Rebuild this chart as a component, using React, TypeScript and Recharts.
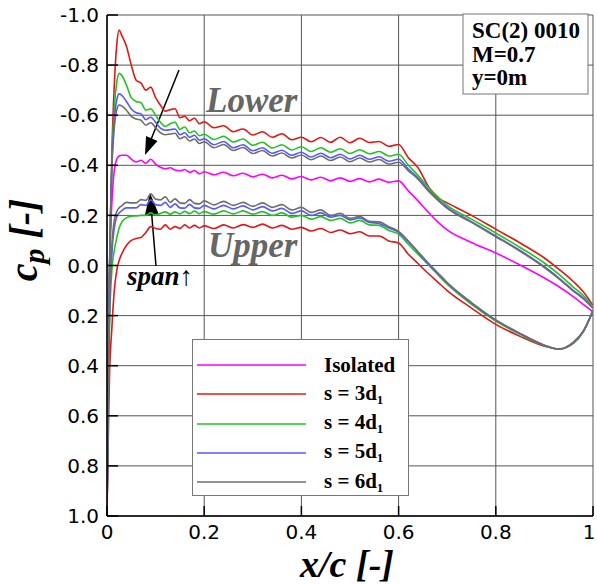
import React from 'react';
import { LineChart, Line, XAxis, YAxis, CartesianGrid, Legend } from 'recharts';

// chordwise stations x/c shared by every surface curve
const xGrid = [
  0, 0.002, 0.005, 0.01, 0.015, 0.02, 0.025, 0.03, 0.04, 0.05,
  0.06, 0.07, 0.08, 0.09, 0.10, 0.11, 0.12, 0.13, 0.14, 0.15, 0.16, 0.17, 0.18, 0.19, 0.20,
  0.22, 0.24, 0.26, 0.28, 0.30, 0.32, 0.34, 0.36, 0.38, 0.40, 0.42, 0.44, 0.46, 0.48, 0.50,
  0.52, 0.54, 0.56, 0.58, 0.60,
  0.62, 0.64, 0.66, 0.68, 0.70,
  0.75, 0.80, 0.85, 0.90, 0.93, 0.96, 0.98, 1.0,
];

const cpIsolated = [
  1.0, 0.55, 0.05, -0.25, -0.38, -0.425, -0.437, -0.44, -0.44, -0.425,
  -0.413, -0.42, -0.408, -0.424, -0.405, -0.392, -0.386, -0.39, -0.381, -0.378, -0.383, -0.372, -0.379, -0.366, -0.374,
  -0.362, -0.372, -0.358, -0.368, -0.354, -0.364, -0.35, -0.36, -0.346, -0.355, -0.342, -0.352, -0.338, -0.35, -0.336,
  -0.347, -0.334, -0.345, -0.332, -0.338,
  -0.298, -0.258, -0.215, -0.175, -0.142,
  -0.092, -0.05, -0.002, 0.05, 0.085, 0.125, 0.155, 0.185,
];

const cpS3Lower = [
  1.0, 0.55, 0.05, -0.45, -0.72, -0.88, -0.94, -0.92, -0.875, -0.80,
  -0.74, -0.728, -0.70, -0.712, -0.67, -0.64, -0.616, -0.622, -0.626, -0.59, -0.596, -0.578, -0.588, -0.566, -0.574,
  -0.55, -0.558, -0.534, -0.545, -0.521, -0.534, -0.512, -0.526, -0.502, -0.512, -0.494, -0.511, -0.492, -0.512, -0.49,
  -0.508, -0.491, -0.495, -0.476, -0.483,
  -0.43, -0.39, -0.32, -0.272, -0.25,
  -0.2, -0.145, -0.09, -0.03, 0.015, 0.065, 0.105, 0.16,
];
const cpS3Upper = [
  1.0, 0.75, 0.45, 0.25, 0.1, 0.02, -0.02, -0.045, -0.08, -0.1,
  -0.108, -0.112, -0.132, -0.155, -0.148, -0.145, -0.162, -0.145, -0.155, -0.148, -0.162, -0.15, -0.16, -0.15, -0.158,
  -0.148, -0.162, -0.15, -0.163, -0.152, -0.165, -0.15, -0.16, -0.145, -0.152, -0.138, -0.148, -0.132, -0.142, -0.127,
  -0.135, -0.118, -0.118, -0.098, -0.09,
  -0.045, -0.008, 0.03, 0.065, 0.1,
  0.17, 0.235, 0.283, 0.322, 0.333, 0.31, 0.265, 0.18,
];

const cpS4Lower = [
  1.0, 0.55, 0.05, -0.42, -0.63, -0.73, -0.767, -0.76, -0.72, -0.67,
  -0.655, -0.65, -0.62, -0.626, -0.6, -0.572, -0.555, -0.566, -0.572, -0.543, -0.553, -0.53, -0.537, -0.518, -0.524,
  -0.503, -0.516, -0.493, -0.505, -0.48, -0.492, -0.469, -0.482, -0.461, -0.474, -0.455, -0.47, -0.452, -0.466, -0.447,
  -0.462, -0.446, -0.455, -0.437, -0.444,
  -0.4, -0.36, -0.315, -0.275, -0.24,
  -0.185, -0.13, -0.072, -0.01, 0.035, 0.087, 0.12, 0.165,
];
const cpS4Upper = [
  1.0, 0.6, 0.25, 0.02, -0.06, -0.11, -0.15, -0.172, -0.19, -0.197,
  -0.198, -0.2, -0.2, -0.21, -0.202, -0.208, -0.214, -0.205, -0.214, -0.206, -0.216, -0.207, -0.217, -0.207, -0.215,
  -0.205, -0.218, -0.206, -0.218, -0.205, -0.215, -0.2, -0.21, -0.193, -0.2, -0.185, -0.195, -0.18, -0.188, -0.17,
  -0.18, -0.162, -0.16, -0.14, -0.125,
  -0.085, -0.045, -0.005, 0.035, 0.075,
  0.155, 0.222, 0.275, 0.32, 0.334, 0.308, 0.263, 0.18,
];

const cpS5Lower = [
  1.0, 0.55, 0.05, -0.4, -0.58, -0.66, -0.685, -0.68, -0.655, -0.625,
  -0.61, -0.605, -0.582, -0.592, -0.572, -0.548, -0.54, -0.542, -0.545, -0.522, -0.53, -0.512, -0.52, -0.5, -0.506,
  -0.482, -0.495, -0.47, -0.482, -0.458, -0.47, -0.448, -0.46, -0.44, -0.452, -0.433, -0.448, -0.43, -0.444, -0.425,
  -0.44, -0.424, -0.434, -0.416, -0.424,
  -0.385, -0.35, -0.305, -0.265, -0.232,
  -0.175, -0.118, -0.06, 0.005, 0.05, 0.1, 0.13, 0.17,
];
const cpS5Upper = [
  1.0, 0.6, 0.2, -0.05, -0.15, -0.195, -0.21, -0.218, -0.23, -0.23,
  -0.23, -0.243, -0.24, -0.262, -0.243, -0.24, -0.252, -0.232, -0.246, -0.23, -0.229, -0.244, -0.23, -0.228, -0.24,
  -0.226, -0.24, -0.226, -0.238, -0.222, -0.235, -0.218, -0.228, -0.208, -0.218, -0.2, -0.21, -0.193, -0.2, -0.182,
  -0.19, -0.172, -0.168, -0.15, -0.132,
  -0.095, -0.052, -0.01, 0.03, 0.07,
  0.15, 0.218, 0.272, 0.318, 0.334, 0.306, 0.262, 0.18,
];

const cpS6Lower = [
  1.0, 0.55, 0.05, -0.38, -0.55, -0.62, -0.641, -0.638, -0.62, -0.595,
  -0.585, -0.58, -0.56, -0.57, -0.55, -0.53, -0.522, -0.525, -0.528, -0.506, -0.514, -0.497, -0.505, -0.487, -0.494,
  -0.47, -0.483, -0.459, -0.471, -0.447, -0.459, -0.437, -0.449, -0.429, -0.441, -0.422, -0.437, -0.419, -0.433, -0.414,
  -0.429, -0.413, -0.423, -0.405, -0.412,
  -0.378, -0.345, -0.3, -0.262, -0.228,
  -0.172, -0.115, -0.057, 0.008, 0.053, 0.103, 0.133, 0.17,
];
const cpS6Upper = [
  1.0, 0.6, 0.2, -0.08, -0.18, -0.215, -0.23, -0.238, -0.252, -0.25,
  -0.25, -0.263, -0.26, -0.286, -0.265, -0.262, -0.274, -0.252, -0.266, -0.25, -0.248, -0.263, -0.248, -0.246, -0.258,
  -0.242, -0.256, -0.24, -0.252, -0.236, -0.25, -0.232, -0.243, -0.222, -0.232, -0.212, -0.222, -0.2, -0.208, -0.188,
  -0.196, -0.176, -0.174, -0.155, -0.136,
  -0.098, -0.055, -0.012, 0.028, 0.068,
  0.148, 0.217, 0.271, 0.318, 0.334, 0.306, 0.262, 0.18,
];

const seriesNames = ['Isolated', 's = 3d_1', 's = 4d_1', 's = 5d_1', 's = 6d_1'];
const seriesColors = ['#ff00ff', '#e01818', '#22c422', '#5858ff', '#6e6e6e'];

const xMajorTicks = [0, 0.2, 0.4, 0.6, 0.8, 1];
const xMinorTicks = [0, 0.05, 0.1, 0.15, 0.2, 0.25, 0.3, 0.35, 0.4, 0.45, 0.5, 0.55, 0.6, 0.65, 0.7, 0.75, 0.8, 0.85, 0.9, 0.95, 1];
const yMajorTicks = [-1, -0.8, -0.6, -0.4, -0.2, 0, 0.2, 0.4, 0.6, 0.8, 1];
const yMinorTicks = [-1, -0.95, -0.9, -0.85, -0.8, -0.75, -0.7, -0.65, -0.6, -0.55, -0.5, -0.45, -0.4, -0.35, -0.3, -0.25, -0.2, -0.15, -0.1, -0.05, 0, 0.05, 0.1, 0.15, 0.2, 0.25, 0.3, 0.35, 0.4, 0.45, 0.5, 0.55, 0.6, 0.65, 0.7, 0.75, 0.8, 0.85, 0.9, 0.95, 1];

const toPoints = (ys: number[]) => xGrid.map((x, i) => ({ x, cp: ys[i] }));

const surfaces = [
  { key: 'iso', data: toPoints(cpIsolated), idx: 0, legend: true },
  { key: 's3l', data: toPoints(cpS3Lower), idx: 1, legend: true },
  { key: 's3u', data: toPoints(cpS3Upper), idx: 1, legend: false },
  { key: 's4l', data: toPoints(cpS4Lower), idx: 2, legend: true },
  { key: 's4u', data: toPoints(cpS4Upper), idx: 2, legend: false },
  { key: 's5l', data: toPoints(cpS5Lower), idx: 3, legend: true },
  { key: 's5u', data: toPoints(cpS5Upper), idx: 3, legend: false },
  { key: 's6l', data: toPoints(cpS6Lower), idx: 4, legend: true },
  { key: 's6u', data: toPoints(cpS6Upper), idx: 4, legend: false },
];

const serifBoldItalic = { fontFamily: '"Liberation Serif", "Times New Roman", serif', fontWeight: 'bold' as const, fontStyle: 'italic' as const };
const tickFontFamily = '"DejaVu Sans", sans-serif';

const XTick = (props: any) => {
  const { x, y, payload } = props;
  const v = payload.value as number;
  const label = v === 0 || v === 1 ? String(v) : v.toFixed(1);
  const dx = v === 1 ? -4 : 0;
  return (
    <text x={x + dx} y={y} dy="0.71em" textAnchor="middle" fill="#000" fontSize={20} fontFamily={tickFontFamily}>
      {label}
    </text>
  );
};

const YTick = (props: any) => {
  const { x, y, payload } = props;
  const v = payload.value as number;
  return (
    <text x={x} y={y} dy="0.355em" textAnchor="end" fill="#000" fontSize={20} fontFamily={tickFontFamily}>
      {v.toFixed(1)}
    </text>
  );
};

const renderLegend = (props: any) => {
  const items = (props.payload || []).filter((p: any) => p.type !== 'none');
  return (
    <div style={{ width: 217, height: 157, border: '1px solid #777', background: '#fff', boxSizing: 'border-box', position: 'relative' }}>
      {items.map((it: any, i: number) => {
        const [base, sub] = String(it.value).split('_');
        return (
          <div key={i} style={{ position: 'absolute', left: 0, top: 11 + i * 29.3, height: 28, display: 'flex', alignItems: 'center' }}>
            <svg width={120} height={28} style={{ display: 'block' }}>
              <line x1={4} x2={113} y1={14} y2={14} stroke={it.color} strokeWidth={1.6} />
            </svg>
            <span style={{ marginLeft: 11, fontFamily: '"Liberation Serif", serif', fontWeight: 'bold', fontSize: 21, color: '#000', whiteSpace: 'nowrap' }}>
              {base}
              {sub ? <span style={{ fontSize: 13, verticalAlign: '-4px' }}>{sub}</span> : null}
            </span>
          </div>
        );
      })}
    </div>
  );
};

export default function App() {
  return (
    <div style={{ position: 'absolute', left: 0, top: 0, width: 597, height: 585, background: '#fff' }}>
      <LineChart width={597} height={585} margin={{ top: 15, right: 4, bottom: 67, left: 105 }}>
        <CartesianGrid stroke="#555" strokeWidth={1} />
        <XAxis
          type="number"
          dataKey="x"
          domain={[0, 1]}
          allowDataOverflow
          ticks={xMajorTicks}
          interval={0}
          tick={<XTick />}
          tickSize={-10}
          tickMargin={19}
          axisLine={{ stroke: '#000', strokeWidth: 1.5 }}
          tickLine={{ stroke: '#000', strokeWidth: 1.5 }}
          height={1}
        />
        <YAxis
          type="number"
          domain={[-1, 1]}
          reversed
          allowDataOverflow
          ticks={yMajorTicks}
          interval={0}
          tick={<YTick />}
          tickSize={-11}
          tickMargin={19}
          axisLine={{ stroke: '#000', strokeWidth: 1.5 }}
          tickLine={{ stroke: '#000', strokeWidth: 1.5 }}
          width={1}
        />
        <XAxis
          xAxisId="minor"
          type="number"
          dataKey="x"
          domain={[0, 1]}
          allowDataOverflow
          ticks={xMinorTicks}
          interval={0}
          tick={false}
          axisLine={false}
          tickSize={-5}
          tickLine={{ stroke: '#000', strokeWidth: 1 }}
          height={1}
        />
        <YAxis
          yAxisId="minor"
          type="number"
          domain={[-1, 1]}
          reversed
          allowDataOverflow
          ticks={yMinorTicks}
          interval={0}
          tick={false}
          axisLine={false}
          tickSize={-6}
          tickLine={{ stroke: '#000', strokeWidth: 1 }}
          width={1}
        />
        <Line
          xAxisId="minor"
          yAxisId="minor"
          data={toPoints(cpIsolated)}
          dataKey="cp"
          stroke="none"
          dot={false}
          activeDot={false}
          legendType="none"
          isAnimationActive={false}
        />
        {surfaces.map((s) => (
          <Line
            key={s.key}
            data={s.data}
            dataKey="cp"
            name={seriesNames[s.idx]}
            type="monotone"
            stroke={seriesColors[s.idx]}
            strokeWidth={1.6}
            dot={false}
            activeDot={false}
            legendType={s.legend ? 'line' : 'none'}
            isAnimationActive={false}
          />
        ))}
        <Legend
          layout="vertical"
          align="center"
          verticalAlign="middle"
          wrapperStyle={{ left: 192, top: 339, width: 217, height: 157 }}
          content={renderLegend}
        />

        {/* annotations */}
        <g>
          <rect x={463} y={14} width={125} height={80} fill="#fff" stroke="#777" strokeWidth={1} />
          <text x={472} y={38} style={{ fontFamily: '"Liberation Serif", serif', fontWeight: 'bold', fontSize: 23 }}>SC(2) 0010</text>
          <text x={472} y={62} style={{ fontFamily: '"Liberation Serif", serif', fontWeight: 'bold', fontSize: 23 }}>M=0.7</text>
          <text x={472} y={85} style={{ fontFamily: '"Liberation Serif", serif', fontWeight: 'bold', fontSize: 23 }}>y=0m</text>

          <text x={206} y={112} fill="#666" style={{ ...serifBoldItalic, fontSize: 35 }}>Lower</text>
          <text x={208} y={257} fill="#666" style={{ ...serifBoldItalic, fontSize: 35 }}>Upper</text>
          <text x={127} y={285} fill="#000" style={{ ...serifBoldItalic, fontSize: 27 }}>
            span<tspan style={{ fontStyle: 'normal', fontWeight: 'normal' }}>↑</tspan>
          </text>

          <line x1={179} y1={70} x2={150} y2={142} stroke="#000" strokeWidth={1.5} />
          <polygon points="145,155 146,136 157.5,141" fill="#000" />
          <line x1={156} y1={266} x2={151.5} y2={212} stroke="#000" strokeWidth={1.5} />
          <polygon points="150,193 144.8,215.5 158.8,214.3" fill="#000" />

          <text x={347} y={577} textAnchor="middle" style={{ ...serifBoldItalic, fontSize: 38 }}>x/c [-]</text>
          <text transform="translate(37,240) rotate(-90)" textAnchor="middle" style={{ ...serifBoldItalic, fontSize: 40 }}>
            c<tspan dy={7} style={{ fontSize: 30 }}>p</tspan>
            <tspan dy={-7}> [-]</tspan>
          </text>
        </g>
      </LineChart>
    </div>
  );
}
